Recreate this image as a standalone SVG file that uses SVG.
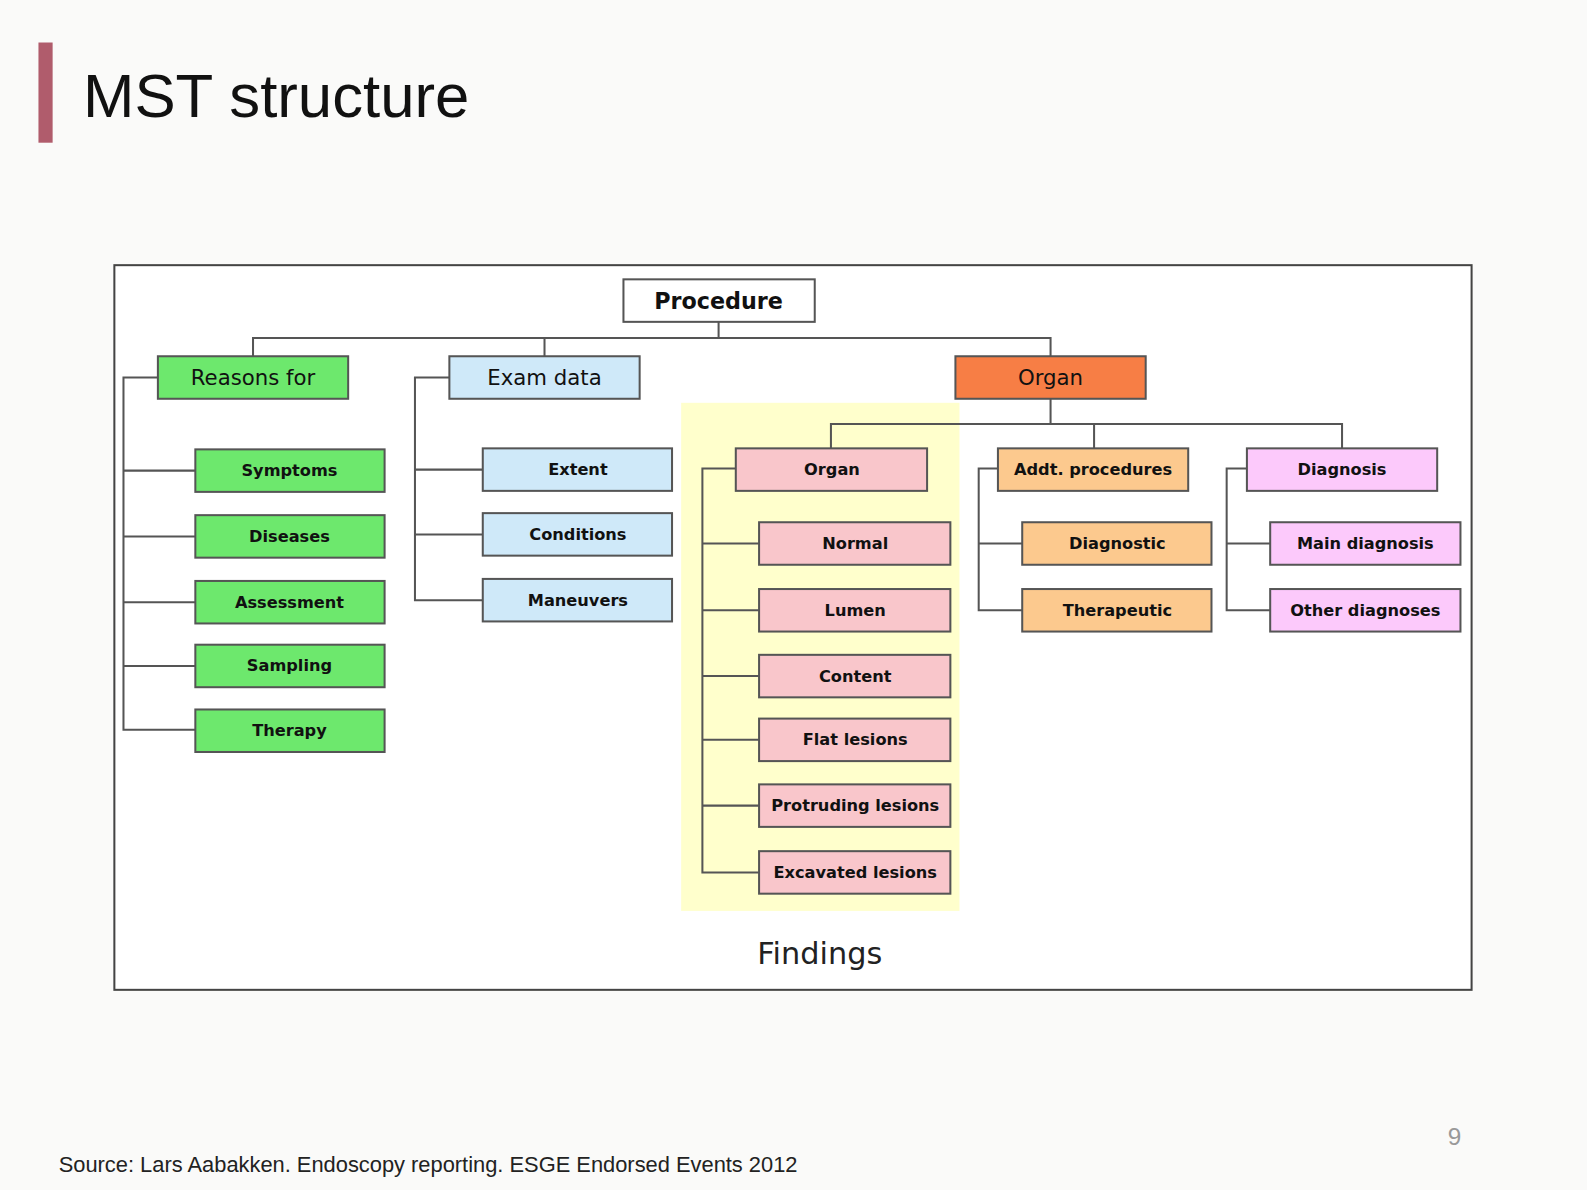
<svg xmlns="http://www.w3.org/2000/svg" width="1587" height="1190" viewBox="0 0 1587 1190">
<style>
.b{stroke:#555;stroke-width:2}
.t{font-family:"DejaVu Sans",sans-serif;font-weight:bold;font-size:16px;fill:#111;text-anchor:middle;dominant-baseline:central}
.L{font-size:21px;font-weight:normal}
.P{font-size:22px}
.c{fill:none;stroke:#555;stroke-width:2}
.g{fill:#6de86d}.bl{fill:#cfe9f9}.o{fill:#f77e45}.p{fill:#f9c6cb}.a{fill:#fcc98e}.m{fill:#fcc9fb}
</style>
<rect width="1587" height="1190" fill="#fafaf9"/>
<g transform="scale(1.0121)">
<rect x="38" y="42" width="14" height="99" fill="#b05c6c"/>
<text x="82" y="116" font-family="Liberation Sans,sans-serif" font-size="61" fill="#111">MST structure</text>
<rect x="113" y="262" width="1341" height="716" fill="#fff" stroke="#444" stroke-width="2"/>
<rect x="673" y="398" width="275" height="502" fill="#ffffcc"/>
<text x="810" y="952" font-family="DejaVu Sans,sans-serif" font-size="30" fill="#222" text-anchor="middle">Findings</text>
<g id="connectors" class="c">
<path d="M710 318V334M250 352V334H1038V352M538 334V352"/>
<path d="M1038 394V419M821 443V419H1326V443M1081 419V443"/>
<path d="M156 373H122V721H193M122 465H193M122 530H193M122 595H193M122 658H193"/>
<path d="M444 373H410V593H477M410 464H477M410 528H477"/>
<path d="M727 463H694V862H750M694 537H750M694 603H750M694 668H750M694 731H750M694 796H750"/>
<path d="M986 463H967V603H1010M967 537H1010"/>
<path d="M1232 463H1212V603H1255M1212 537H1255"/>
</g>
<g id="procedure"><rect class="b" x="616" y="276" width="189" height="42" fill="#fff"/><text class="t P" x="710" y="297">Procedure</text></g>
<g id="reasons"><rect class="b g" x="156" y="352" width="188" height="42"/><text class="t L" x="250" y="373">Reasons for</text></g>
<g id="examdata"><rect class="b bl" x="444" y="352" width="188" height="42"/><text class="t L" x="538" y="373">Exam data</text></g>
<g id="organ-top"><rect class="b o" x="944" y="352" width="188" height="42"/><text class="t L" x="1038" y="373">Organ</text></g>
<g id="symptoms"><rect class="b g" x="193" y="444" width="187" height="42"/><text class="t" x="286" y="465">Symptoms</text></g>
<g id="diseases"><rect class="b g" x="193" y="509" width="187" height="42"/><text class="t" x="286" y="530">Diseases</text></g>
<g id="assessment"><rect class="b g" x="193" y="574" width="187" height="42"/><text class="t" x="286" y="595">Assessment</text></g>
<g id="sampling"><rect class="b g" x="193" y="637" width="187" height="42"/><text class="t" x="286" y="658">Sampling</text></g>
<g id="therapy"><rect class="b g" x="193" y="701" width="187" height="42"/><text class="t" x="286" y="722">Therapy</text></g>
<g id="extent"><rect class="b bl" x="477" y="443" width="187" height="42"/><text class="t" x="571" y="464">Extent</text></g>
<g id="conditions"><rect class="b bl" x="477" y="507" width="187" height="42"/><text class="t" x="571" y="528">Conditions</text></g>
<g id="maneuvers"><rect class="b bl" x="477" y="572" width="187" height="42"/><text class="t" x="571" y="593">Maneuvers</text></g>
<g id="organ"><rect class="b p" x="727" y="443" width="189" height="42"/><text class="t" x="822" y="464">Organ</text></g>
<g id="normal"><rect class="b p" x="750" y="516" width="189" height="42"/><text class="t" x="845" y="537">Normal</text></g>
<g id="lumen"><rect class="b p" x="750" y="582" width="189" height="42"/><text class="t" x="845" y="603">Lumen</text></g>
<g id="content"><rect class="b p" x="750" y="647" width="189" height="42"/><text class="t" x="845" y="668">Content</text></g>
<g id="flat"><rect class="b p" x="750" y="710" width="189" height="42"/><text class="t" x="845" y="731">Flat lesions</text></g>
<g id="protruding"><rect class="b p" x="750" y="775" width="189" height="42"/><text class="t" x="845" y="796">Protruding lesions</text></g>
<g id="excavated"><rect class="b p" x="750" y="841" width="189" height="42"/><text class="t" x="845" y="862">Excavated lesions</text></g>
<g id="addt"><rect class="b a" x="986" y="443" width="188" height="42"/><text class="t" x="1080" y="464">Addt. procedures</text></g>
<g id="diagnostic"><rect class="b a" x="1010" y="516" width="187" height="42"/><text class="t" x="1104" y="537">Diagnostic</text></g>
<g id="therapeutic"><rect class="b a" x="1010" y="582" width="187" height="42"/><text class="t" x="1104" y="603">Therapeutic</text></g>
<g id="diagnosis"><rect class="b m" x="1232" y="443" width="188" height="42"/><text class="t" x="1326" y="464">Diagnosis</text></g>
<g id="main"><rect class="b m" x="1255" y="516" width="188" height="42"/><text class="t" x="1349" y="537">Main diagnosis</text></g>
<g id="other"><rect class="b m" x="1255" y="582" width="188" height="42"/><text class="t" x="1349" y="603">Other diagnoses</text></g>
<text x="1437" y="1131" font-family="Liberation Sans,sans-serif" font-size="24" fill="#999" text-anchor="middle">9</text>
<text x="58" y="1158" font-family="Liberation Sans,sans-serif" font-size="21.6" fill="#222">Source: Lars Aabakken. Endoscopy reporting. ESGE Endorsed Events 2012</text>
</g>
</svg>
